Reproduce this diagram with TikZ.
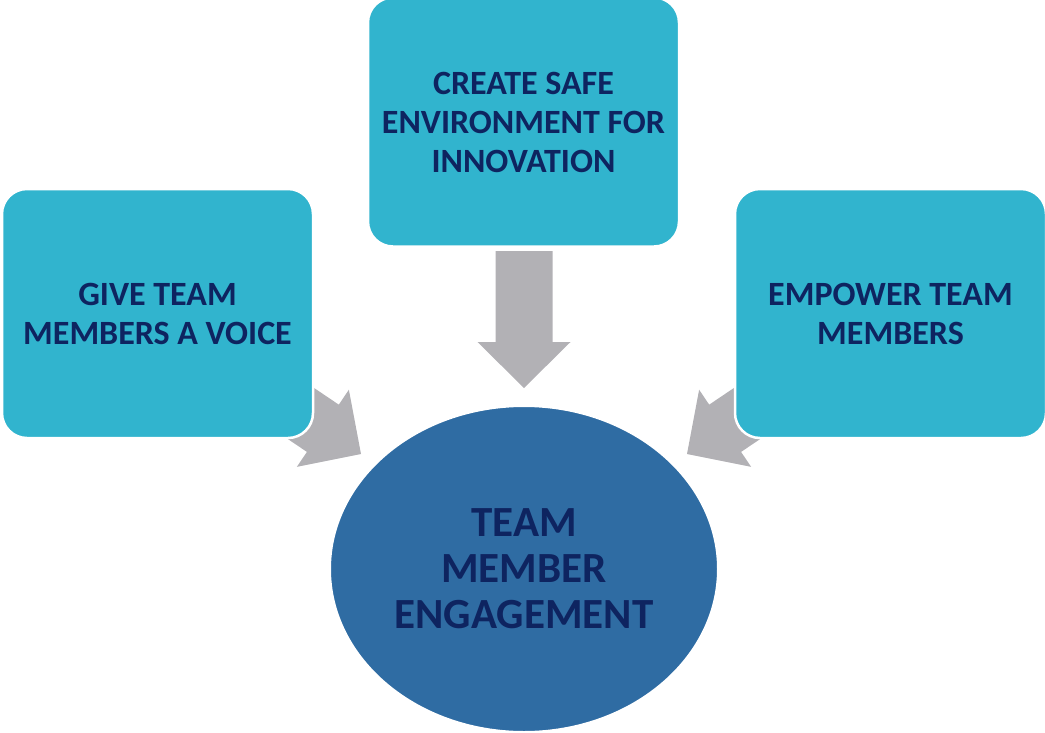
\documentclass[tikz,border=0pt]{standalone}
\usepackage{fontspec}
\setmainfont{Carlito}
\usetikzlibrary{shapes.geometric}
\definecolor{boxfill}{HTML}{31B4CE}
\definecolor{ellfill}{HTML}{2F6CA3}
\definecolor{arrowgray}{HTML}{B2B1B5}
\definecolor{navy}{HTML}{0E2460}
\tikzset{
  boxnode/.style={rectangle, rounded corners=25pt, fill=boxfill, draw=white, line width=2.5pt,
    minimum width=311pt, minimum height=249pt, inner sep=0pt, align=center,
    text=navy, font=\bfseries\fontsize{34}{39}\selectfont},
  ellnode/.style={ellipse, fill=ellfill, draw=white, line width=2pt,
    minimum width=388pt, minimum height=326pt, inner sep=0pt, align=center,
    text=navy, font=\bfseries\fontsize{43}{46}\selectfont},
  blockarrow/.style={fill=arrowgray, draw=none}
}
\newcommand{\blockarrowpath}{(0,0) -- (-46,46.5) -- (-46,28.5) -- (-137,28.5) -- (-137,-28.5) -- (-46,-28.5) -- (-46,-46.5) -- cycle}
\begin{document}
\begin{tikzpicture}[x=1pt, y=-1pt]
\useasboundingbox (0,0) rectangle (1045,732);
% arrows (drawn first, boxes overlap them)
\begin{scope}[shift={(524,388)}, rotate=-90]
  \fill[blockarrow] \blockarrowpath;
\end{scope}
\begin{scope}[shift={(361,454)}, rotate=-34]
  \fill[blockarrow] \blockarrowpath;
\end{scope}
\begin{scope}[shift={(687,454)}, rotate=-146]
  \fill[blockarrow] \blockarrowpath;
\end{scope}
% nodes
\node[boxnode] (give) at (157.5,313.5) {GIVE TEAM\\MEMBERS A VOICE};
\node[boxnode] (create) at (523.5,122) {CREATE SAFE\\ENVIRONMENT FOR\\INNOVATION};
\node[boxnode] (empower) at (890.5,313.5) {EMPOWER TEAM\\MEMBERS};
\node[ellnode] (engage) at (524,569) {TEAM\\MEMBER\\ENGAGEMENT};
\end{tikzpicture}
\end{document}
